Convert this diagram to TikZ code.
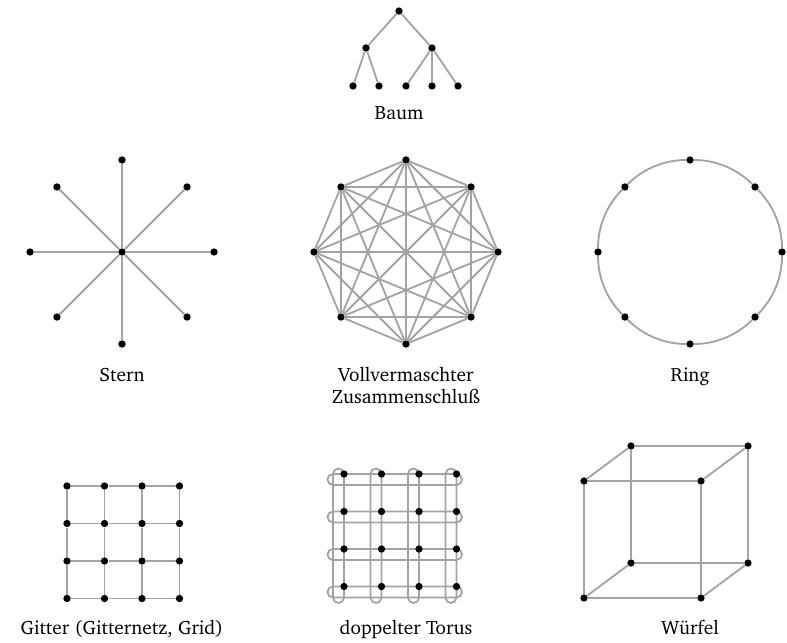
\documentclass[tikz,border=0pt]{standalone}
\usepackage[T1]{fontenc}
\usepackage{charter}
\usetikzlibrary{calc,backgrounds}
\definecolor{edgegray}{RGB}{163,163,163}
\tikzset{
  dot/.style={circle,fill=black,inner sep=0pt,minimum size=4.4pt},
  edge/.style={draw=edgegray,line width=1.1pt},
  lbl/.style={anchor=base,align=center,font=\fontsize{11.6}{13.2}\selectfont,inner sep=0pt},
}
\begin{document}
\begin{tikzpicture}[x=0.6pt,y=-0.6pt]
\path[use as bounding box] (0,0) rectangle (787,643);

% ---------- Baum ----------
\node[dot] (r) at (399,11) {};
\node[dot] (ta) at (366,48) {};
\node[dot] (tb) at (432,48) {};
\node[dot] (l1) at (353,86) {};
\node[dot] (l2) at (379,86) {};
\node[dot] (l3) at (406,86) {};
\node[dot] (l4) at (432,86) {};
\node[dot] (l5) at (458,86) {};
\node[lbl] (lbaum) at (399,120) {Baum};

% ---------- Stern ----------
\node[dot] (s) at (122,252) {};
\foreach \i in {0,...,7}
  \node[dot] (s\i) at ($(122,252)+(\i*45:92)$) {};
\node[lbl] (lstern) at (122,381) {Stern};

% ---------- Vollvermascht ----------
\foreach \i in {0,...,7}
  \node[dot] (m\i) at ($(406,252)+(\i*45:92)$) {};
\node[lbl] (lvoll) at (406,403) {Vollvermaschter\\Zusammenschlu\ss};

% ---------- Ring ----------
\foreach \i in {0,...,7}
  \node[dot] (g\i) at ($(690,252)+(\i*45:92)$) {};
\node[lbl] (lring) at (690,381) {Ring};

% ---------- Gitter ----------
\foreach \i in {0,...,3}
  \foreach \j in {0,...,3}
    \node[dot] (q\i\j) at (67+37.5*\i,486+37.5*\j) {};
\node[lbl] (lgitter) at (122,634) {Gitter (Gitternetz, Grid)};

% ---------- Torus ----------
\foreach \i in {0,...,3}
  \foreach \j in {0,...,3}
    \node[dot] (t\i\j) at (344+37.5*\i,474+37.5*\j) {};
\node[lbl] (ltorus) at (406,634) {doppelter Torus};

% ---------- Wuerfel ----------
\node[dot] (c1) at (584,481) {};
\node[dot] (c2) at (701,481) {};
\node[dot] (c3) at (701,598) {};
\node[dot] (c4) at (584,598) {};
\node[dot] (d1) at (631,446) {};
\node[dot] (d2) at (748,446) {};
\node[dot] (d3) at (748,563) {};
\node[dot] (d4) at (631,563) {};
\node[lbl] (lwuerfel) at (690,634) {W\"urfel};

% ---------- edges ----------
\begin{scope}[on background layer]
  % tree
  \draw[edge] (r) -- (ta);
  \draw[edge] (r) -- (tb);
  \draw[edge] (ta) -- (l1);
  \draw[edge] (ta) -- (l2);
  \draw[edge] (tb) -- (l3);
  \draw[edge] (tb) -- (l4);
  \draw[edge] (tb) -- (l5);
  % star
  \foreach \i in {0,...,7}
    \draw[edge] (s) -- (s\i);
  % full mesh
  \foreach \i in {0,...,6}{
    \pgfmathtruncatemacro\kk{\i+1}
    \foreach \j in {\kk,...,7}
      \draw[edge] (m\i) -- (m\j);
  }
  % ring
  \foreach \i in {0,...,7}{
    \pgfmathtruncatemacro\kk{mod(\i+1,8)}
    \draw[edge] (g\i) to[bend left=22.5,looseness=0.885] (g\kk);
  }
  % grid
  \foreach \i in {0,...,3}{
    \draw[edge] (q0\i) -- (q1\i) -- (q2\i) -- (q3\i);
    \draw[edge] (q\i0) -- (q\i1) -- (q\i2) -- (q\i3);
  }
  % torus
  \foreach \j in {0,...,3}
    \draw[edge,rounded corners=3.3pt] ($(t0\j)+(-16.5,0)$) rectangle ($(t3\j)+(5.5,11)$);
  \foreach \i in {0,...,3}
    \draw[edge,rounded corners=3.3pt] ($(t\i0)+(-11,-5.5)$) rectangle ($(t\i3)+(0,16.5)$);
  % cube
  \draw[edge] (c1) -- (c2) -- (c3) -- (c4) -- (c1);
  \draw[edge] (d1) -- (d2) -- (d3) -- (d4) -- (d1);
  \draw[edge] (c1) -- (d1);
  \draw[edge] (c2) -- (d2);
  \draw[edge] (c3) -- (d3);
  \draw[edge] (c4) -- (d4);
\end{scope}
\end{tikzpicture}
\end{document}
